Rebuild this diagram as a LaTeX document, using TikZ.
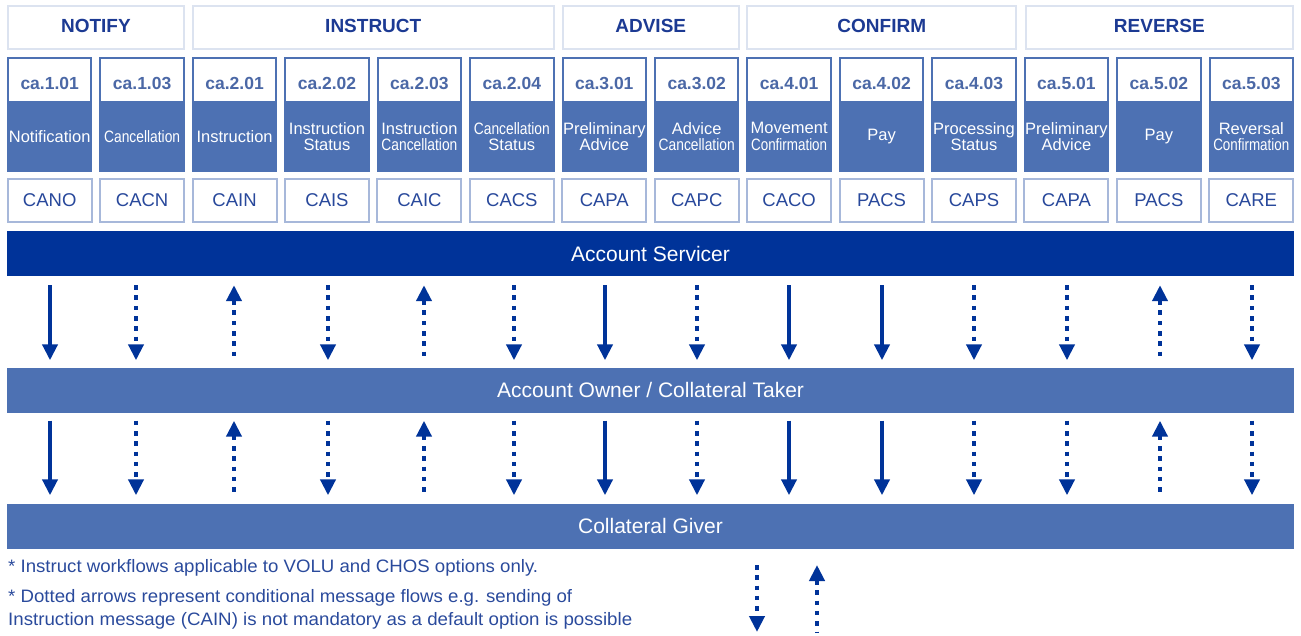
\documentclass[tikz,border=0pt]{standalone}
\usepackage{fontspec}
\setmainfont{Liberation Sans}
\usepackage{graphicx}
\usetikzlibrary{arrows.meta}
\definecolor{darkblue}{HTML}{003399}
\definecolor{midblue}{HTML}{4D71B3}
\definecolor{hdrborder}{HTML}{DCE3F0}
\definecolor{codeborder}{HTML}{A7B8DA}
\definecolor{catext}{HTML}{4B68A6}
\definecolor{hdrtext}{HTML}{1C3A93}
\definecolor{codetext}{HTML}{28489B}
\definecolor{legtext}{HTML}{2A4A9C}
\newsavebox\fitbox
\newcommand\fitw[1]{\sbox\fitbox{#1}\ifdim\wd\fitbox>84pt\resizebox{76pt}{\height}{\usebox\fitbox}\else\usebox\fitbox\fi}
\begin{document}
\begin{tikzpicture}[x=1pt,y=-1pt,
  hdr/.style={draw=hdrborder, line width=2pt, fill=white, minimum height=43pt, text=hdrtext,
    font=\fontsize{19}{22}\selectfont\bfseries, inner sep=0pt, text height=10pt, text depth=0pt},
  catop/.style={fill=white, minimum width=81.4pt, minimum height=42pt, inner sep=0pt, text=catext,
    font=\fontsize{17.5}{20}\selectfont\bfseries, text height=19.5pt, text depth=0pt},
  desc/.style={text=white, align=center, inner sep=0pt, font=\fontsize{16.5}{16.5}\selectfont},
  codebox/.style={draw=codeborder, line width=2pt, fill=white, minimum width=84pt, minimum height=43pt,
    inner sep=0pt, text=codetext, font=\fontsize{18.5}{21}\selectfont},
  bar/.style={minimum width=1287pt, minimum height=45pt, inner sep=0pt, text=white,
    font=\fontsize{21}{24}\selectfont},
  legend/.style={anchor=west, inner sep=0pt, text=legtext, font=\fontsize{18}{20}\selectfont},
  solidarr/.style={draw=darkblue, line width=4pt},
  dotarr/.style={draw=darkblue, line width=4.5pt, dash pattern=on 4.5pt off 5.8pt},
  arr-s/.style={solidarr, -{Triangle[width=15pt,length=16pt]}},
  arr-dd/.style={dotarr, -{Triangle[width=15pt,length=16pt]}},
  arr-du/.style={dotarr, {Triangle[width=15pt,length=16pt]}-},
]
\useasboundingbox (0,0) rectangle (1301,636);

% headers
\node[hdr, minimum width=175.8pt] (hn) at (95.9,27.5) {NOTIFY};
\node[hdr, minimum width=360.7pt] (hi) at (373.25,27.5) {INSTRUCT};
\node[hdr, minimum width=176.3pt] (ha) at (650.75,27.5) {ADVISE};
\node[hdr, minimum width=268.7pt] (hc) at (881.75,27.5) {CONFIRM};
\node[hdr, minimum width=267.3pt] (hr) at (1159.35,27.5) {REVERSE};

% bars
\node[bar, fill=darkblue] (as) at (650.5,253.5) {Account Servicer};
\node[bar, fill=midblue] (ao) at (650.5,390) {Account Owner / Collateral Taker};
\node[bar, fill=midblue] (cg) at (650.5,526) {Collateral Giver};

\foreach \i/\lab/\la/\lb/\code/\ar/\ax in {
1/ca.1.01/Notification//CANO/s/50,
2/ca.1.03/Cancellation//CACN/dd/136,
3/ca.2.01/Instruction//CAIN/du/234,
4/ca.2.02/Instruction/Status/CAIS/dd/328,
5/ca.2.03/Instruction/Cancellation/CAIC/du/424,
6/ca.2.04/Cancellation/Status/CACS/dd/514,
7/ca.3.01/Preliminary/Advice/CAPA/s/605,
8/ca.3.02/Advice/Cancellation/CAPC/dd/697,
9/ca.4.01/Movement/Confirmation/CACO/s/789,
10/ca.4.02/Pay//PACS/s/882,
11/ca.4.03/Processing/Status/CAPS/dd/974,
12/ca.5.01/Preliminary/Advice/CAPA/dd/1067,
13/ca.5.02/Pay//PACS/du/1160,
14/ca.5.03/Reversal/Confirmation/CARE/dd/1252}{
  \pgfmathsetmacro\L{7+(\i-1)*92.43}
  \pgfmathsetmacro\C{\L+42.7}
  \fill[midblue] (\L,57) rectangle ++(85.4,115);
  \node[catop] (t\i) at (\C,80) {\lab};
  \edef\tmp{\lb}
  \ifx\tmp\empty
    \node[desc] (d\i) at (\C,136.5) {\fitw{\la}};
  \else
    \node[desc] (d\i) at (\C,136.5) {\fitw{\la}\\\fitw{\lb}};
  \fi
  \node[codebox] (k\i) at (\C,200.5) {\code};
  \coordinate (x\i) at (\ax,0);
  \draw[arr-\ar, shorten <=9pt, shorten >=7pt] (as.south -| x\i) -- (ao.north -| x\i);
  \draw[arr-\ar, shorten <=8pt, shorten >=8pt] (ao.south -| x\i) -- (cg.north -| x\i);
}

% legend
\node[legend] (n1) at (8,568) {\resizebox{530pt}{\height}{* Instruct workflows applicable to VOLU and CHOS options only.}};
\node[legend] (n2) at (8,598) {\resizebox{564pt}{\height}{* Dotted arrows represent conditional message flows e.g. sending of}};
\node[legend] (n3) at (8,621) {\resizebox{624pt}{\height}{Instruction message (CAIN) is not mandatory as a default option is possible}};
\coordinate (la1) at (757,565);
\coordinate (la2) at (757,632);
\coordinate (lb1) at (817,565);
\coordinate (lb2) at (817,632);
\draw[arr-dd] (la1) -- (la2);
\draw[arr-du] (lb1) -- (lb2);
\end{tikzpicture}
\end{document}
